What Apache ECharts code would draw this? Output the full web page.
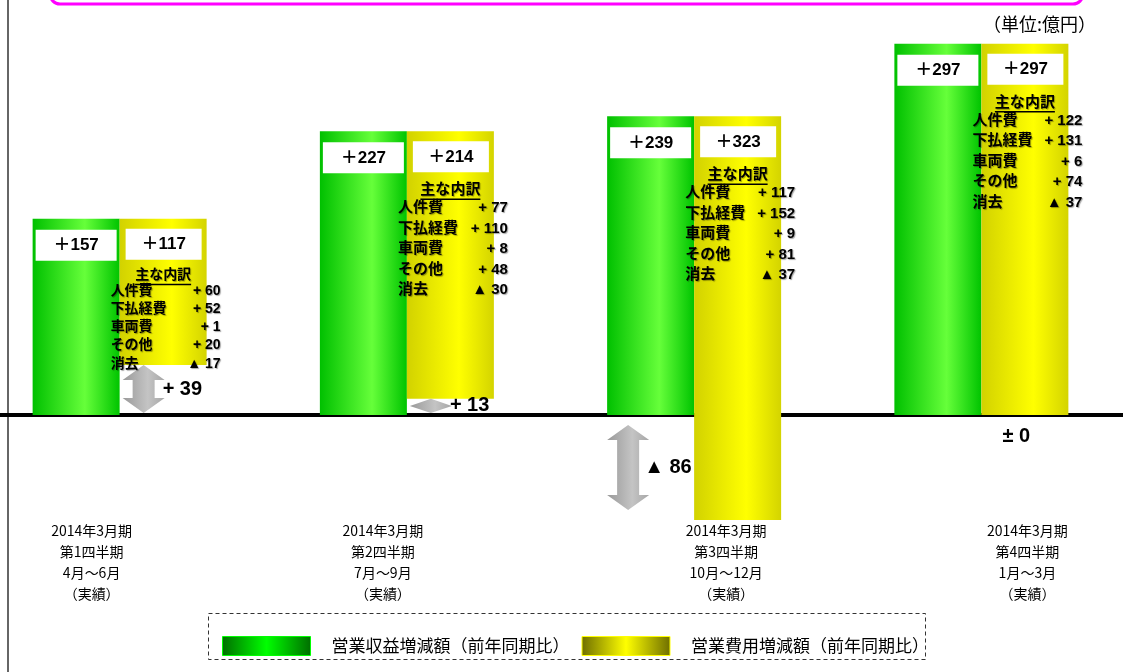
<!DOCTYPE html>
<html><head><meta charset="utf-8">
<script src="https://cdn.jsdelivr.net/npm/echarts@6/dist/echarts.min.js"></script>
<style>html,body{margin:0;padding:0;background:#fff}#c{width:1123px;height:672px}</style>
</head><body><div id="c"></div>
<script>
// ---------- data ----------
const categories = [
  '2014年3月期\n第1四半期\n4月～6月\n（実績）',
  '2014年3月期\n第2四半期\n7月～9月\n（実績）',
  '2014年3月期\n第3四半期\n10月～12月\n（実績）',
  '2014年3月期\n第4四半期\n1月～3月\n（実績）'
];
const revenueChange = [157, 227, 239, 297];   // 営業収益増減額
const expenseChange = [117, 214, 323, 297];   // 営業費用増減額
const diffLabels = ['+ 39', '+ 13', '▲ 86', '± 0'];
const breakdownTitle = '主な内訳';
const breakdownNames = ['人件費', '下払経費', '車両費', 'その他', '消去'];
const breakdownQ1 = [60, 52, 1, 20, -17];
const breakdownQ2 = [77, 110, 8, 48, -30];
const breakdownQ3 = [117, 152, 9, 81, -37];
const breakdownQ4 = [122, 131, 6, 74, -37];
const breakdowns = [breakdownQ1, breakdownQ2, breakdownQ3, breakdownQ4];
const seriesNames = ['営業収益増減額（前年同期比）', '営業費用増減額（前年同期比）'];
const unitLabel = '（単位:億円）';

// ---------- style ----------
const BAR_W = 87;
const JP = '"Noto Sans CJK JP", sans-serif';
const BOLD = (s) => 'bold ' + s + 'px "Liberation Sans", "Noto Sans CJK JP", sans-serif';
const labelShift = [-28, -24, 32, 46];
const G = echarts.graphic.LinearGradient;
const greenGrad = () => new G(0, 0, 1, 0, [{offset: 0, color: '#00c000'}, {offset: 0.6, color: '#66ff3a'}, {offset: 1, color: '#00c400'}]);
const yellowGrad = () => new G(0, 0, 1, 0, [{offset: 0, color: '#d2d200'}, {offset: 0.6, color: '#ffff00'}, {offset: 1, color: '#d4d400'}]);
const grayGrad = () => new G(0, 0, 1, 0, [{offset: 0, color: '#999999'}, {offset: 0.6, color: '#c4c4c4'}, {offset: 1, color: '#a6a6a6'}]);

const fmt = (v) => v >= 0 ? '+ ' + v : '▲ ' + (-v);

function renderRevenue(params, api) {
  const i = api.value(0), v = api.value(1);
  const b = api.coord([i, 0]), t = api.coord([i, v]);
  const x = b[0] - BAR_W;
  return {type: 'group', children: [
    {type: 'rect', shape: {x: x, y: t[1], width: BAR_W, height: b[1] - t[1]}, style: {fill: greenGrad()}},
    {type: 'rect', shape: {x: x + 3, y: t[1] + 11, width: 81, height: 31}, style: {fill: '#fff'}},
    {type: 'text', style: {text: '＋' + v, x: x + BAR_W / 2, y: t[1] + 27, align: 'center', verticalAlign: 'middle', font: BOLD(17), fill: '#000'}}
  ]};
}

function renderExpense(params, api) {
  const i = api.value(0), lo = api.value(1), hi = api.value(2), v = api.value(3);
  const pl = api.coord([i, lo]), ph = api.coord([i, hi]);
  const x = pl[0];
  return {type: 'group', children: [
    {type: 'rect', shape: {x: x, y: ph[1], width: BAR_W, height: pl[1] - ph[1]}, style: {fill: yellowGrad()}},
    {type: 'rect', shape: {x: x + 6, y: ph[1] + 10, width: 76, height: 31}, style: {fill: '#fff'}},
    {type: 'text', style: {text: '＋' + v, x: x + 44, y: ph[1] + 26, align: 'center', verticalAlign: 'middle', font: BOLD(17), fill: '#000'}}
  ]};
}

function renderBreakdown(params, api) {
  const i = api.value(0), lo = api.value(1), hi = api.value(2);
  const cl = api.coord([i, lo]), c = api.coord([i, hi]);
  const x0 = c[0], top = c[1];
  const avail = cl[1] - top;
  const f = Math.min(1, (avail - 44) / 116);
  const fs = f < 1 ? 14 : 15;
  const vals = breakdowns[params.dataIndex];
  const cx = x0 + BAR_W / 2;
  const shadow = {textShadowColor: 'rgba(0,0,0,0.35)', textShadowOffsetX: 1, textShadowOffsetY: 1, textShadowBlur: 1};
  const hy = top + 40 + 19 * f;
  const children = [
    {type: 'text', style: Object.assign({text: breakdownTitle, x: cx, y: hy, align: 'center', verticalAlign: 'middle', font: BOLD(fs), fill: '#000'}, shadow)},
    {type: 'line', shape: {x1: cx - 2 * fs, y1: hy + 9, x2: cx + 2 * fs, y2: hy + 9}, style: {stroke: '#000', lineWidth: 1.5}}
  ];
  breakdownNames.forEach((n, k) => {
    const y = top + 40 + 37 * f + k * 20.5 * f;
    children.push({type: 'text', style: Object.assign({text: n, x: x0 - 9, y: y, align: 'left', verticalAlign: 'middle', font: BOLD(fs), fill: '#000'}, shadow)});
    children.push({type: 'text', style: Object.assign({text: fmt(vals[k]), x: x0 + BAR_W + 14, y: y, align: 'right', verticalAlign: 'middle', font: BOLD(fs), fill: '#000'}, shadow)});
  });
  return {type: 'group', children: children};
}

function renderDiff(params, api) {
  const i = api.value(0), lo = api.value(1);
  const label = diffLabels[params.dataIndex];
  const p0 = api.coord([i, 0]), p1 = api.coord([i, lo]);
  const font = BOLD(20);
  if (lo === 0) {
    return {type: 'text', style: {text: label, x: p0[0] + 35, y: p0[1] + 21, align: 'center', verticalAlign: 'middle', font: font, fill: '#000'}};
  }
  let cx, y1, y2, tx;
  if (lo > 0) { cx = p0[0] + 24; y1 = p1[1]; y2 = p0[1] - 2; tx = cx + 19; }
  else { cx = p0[0] - 66; y1 = p0[1] + 10; y2 = p1[1] - 10; tx = cx + 16; }
  const hl = Math.min(15, (y2 - y1) / 2);
  const hw = 21, sw = 11;
  const pts = [[cx, y1], [cx + hw, y1 + hl], [cx + sw, y1 + hl], [cx + sw, y2 - hl], [cx + hw, y2 - hl], [cx, y2],
               [cx - hw, y2 - hl], [cx - sw, y2 - hl], [cx - sw, y1 + hl], [cx - hw, y1 + hl]];
  return {type: 'group', children: [
    {type: 'polygon', shape: {points: pts}, style: {fill: grayGrad()}},
    {type: 'text', style: {text: label, x: tx, y: (y1 + y2) / 2, align: 'left', verticalAlign: 'middle', font: font, fill: '#000'}}
  ]};
}

const revData = revenueChange.map((v, i) => [i, v]);
const expData = expenseChange.map((v, i) => [i, revenueChange[i] - v, revenueChange[i], v]);
const bdData = expData.map((d) => [d[0], d[1], d[2]]);
const diffData = revenueChange.map((v, i) => [i, v - expenseChange[i]]);

const rich = {};
labelShift.forEach((s, k) => {
  rich['q' + k] = {fontSize: 14, fontFamily: JP, color: '#000', lineHeight: 21, align: 'center',
    padding: s < 0 ? [0, -2 * s, 0, 0] : [0, 0, 0, 2 * s]};
});

const chart = echarts.init(document.getElementById('c'), null, {renderer: 'canvas'});
chart.setOption({
  animation: false,
  backgroundColor: '#fff',
  title: {text: unitLabel, right: 22, top: 10, textStyle: {fontSize: 18, fontWeight: 'normal', fontFamily: JP, color: '#000'}},
  grid: {left: -24, right: -2, top: 40, height: 500, containLabel: false, outerBoundsMode: 'none'},
  xAxis: {
    type: 'category', data: categories,
    axisLine: {onZero: true, lineStyle: {color: '#000', width: 4}},
    axisTick: {show: false},
    axisLabel: {margin: -20, interval: 0, hideOverlap: false, formatter: (v, idx) => '{q' + idx + '|' + v + '}', rich: rich}
  },
  yAxis: {type: 'value', min: -100, max: 300, show: false},
  legend: {
    left: 217, top: 631, itemWidth: 88, itemHeight: 19, itemGap: 12, selectedMode: false,
    data: [
      {name: seriesNames[0], icon: 'rect', itemStyle: {color: new G(0, 0, 1, 0, [{offset: 0, color: '#006e00'}, {offset: 0.5, color: '#00ff00'}, {offset: 1, color: '#006e00'}]), borderColor: '#00ff00', borderWidth: 1}},
      {name: seriesNames[1], icon: 'rect', itemStyle: {color: new G(0, 0, 1, 0, [{offset: 0, color: '#6e6e00'}, {offset: 0.5, color: '#ffff00'}, {offset: 1, color: '#6e6e00'}]), borderColor: '#ffff00', borderWidth: 1}}
    ],
    textStyle: {fontSize: 17, fontFamily: JP, color: '#000', padding: [0, 0, 0, 16]}
  },
  graphic: [
    {type: 'line', shape: {x1: 8, y1: 0, x2: 8, y2: 672}, style: {stroke: '#333', lineWidth: 1.5}},
    {type: 'rect', shape: {x: 50, y: -30, width: 1033, height: 34, r: 10}, style: {fill: 'none', stroke: '#ff00ff', lineWidth: 3}},
    {type: 'rect', shape: {x: 208.5, y: 613.5, width: 717, height: 46}, style: {fill: 'none', stroke: '#333', lineWidth: 1, lineDash: [4, 3]}}
  ],
  series: [
    {type: 'custom', name: seriesNames[0], renderItem: renderRevenue, data: revData, itemStyle: {color: '#00c000'}, z: 2},
    {type: 'custom', name: seriesNames[1], renderItem: renderExpense, data: expData, itemStyle: {color: '#ffff00'}, z: 2},
    {type: 'custom', renderItem: renderBreakdown, data: bdData, z: 4},
    {type: 'custom', renderItem: renderDiff, data: diffData, z: 3}
  ]
});
</script></body></html>
